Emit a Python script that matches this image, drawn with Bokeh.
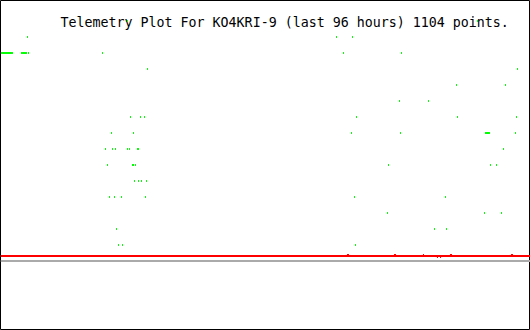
from bokeh.plotting import figure
from bokeh.models import Label, Range1d, ColumnDataSource
from bokeh.embed import file_html
from bokeh.resources import INLINE

title_text = "Telemetry Plot For KO4KRI-9 (last 96 hours) 1104 points."

# green series: time (hours since start of the 96 h window) and value
green_hours = [
    23.00, 86.40,
    4.89, 60.86, 63.76,
    0.18, 0.36, 0.54, 0.72, 0.91, 1.09, 1.27, 1.45, 1.63, 1.81, 1.99, 2.17,
    3.80, 3.98, 4.17, 4.35, 4.53, 4.71, 5.07, 18.48, 62.13, 72.63,
    26.63, 93.65,
    82.60, 91.47,
    72.27, 77.52,
    23.55, 25.36, 26.08, 64.48, 82.78, 93.46,
    20.11, 24.09, 63.58, 72.45, 87.85, 88.03, 88.21, 88.39, 88.57, 93.28,
    19.02, 20.29, 20.83, 23.00, 23.37, 24.82, 25.00, 91.11,
    19.38, 23.91, 24.09, 24.45, 70.28, 88.75, 89.84,
    24.27, 25.00, 25.54, 26.45,
    19.74, 20.65, 21.92, 26.26, 64.12, 80.60,
    70.10, 87.67, 90.75,
    21.01, 78.61, 80.78,
    21.37, 22.10, 64.30,
]
green_values = (
    [15] * 2 + [14] * 3 + [13] * 22 + [12] * 2 + [11] * 2 + [10] * 2
    + [9] * 6 + [8] * 10 + [7] * 8 + [6] * 7 + [5] * 4 + [4] * 6
    + [3] * 3 + [2] * 3 + [1] * 3
)

# red series: steady level plus the few readings that differ
red_base_hours = [0.0, 96.0]
red_base_values = [0.3125, 0.3125]
red_dev_hours = [62.85, 63.03, 71.37, 71.55, 76.62, 79.15, 79.70,
                 81.51, 81.69, 92.56, 92.74]
red_dev_values = [0.375, 0.375, 0.375, 0.375, 0.375, 0.25, 0.25,
                  0.375, 0.375, 0.375, 0.375]

# zero reference line
zero_hours = [0.0, 96.0]
zero_values = [0.0, 0.0]

p = figure(width=530, height=330,
           x_range=Range1d(0, 96), y_range=Range1d(-4.34375, 16.28125),
           output_backend="svg", toolbar_location=None,
           x_axis_location=None, y_axis_location=None, min_border=0)
p.grid.visible = False
p.background_fill_color = "white"
p.border_fill_color = "white"
p.outline_line_color = "black"
p.outline_line_width = 1

title = Label(x=60, y=308, x_units="screen", y_units="screen", text=title_text,
              text_font="DejaVu Sans Mono", text_font_size="13.3px",
              text_color="black", text_baseline="alphabetic", level="underlay")
p.add_layout(title)

p.line(zero_hours, zero_values, line_color="#aaaaaa", line_width=2)

p.line(red_base_hours, red_base_values, line_color="#ff0000", line_width=2)
p.rect(x=red_dev_hours, y=red_dev_values, width=1, height=2,
       width_units="screen", height_units="screen",
       fill_color="#ff0000", line_color=None)

src = ColumnDataSource(dict(h=green_hours, v=green_values))
p.rect(x="h", y="v", width=1, height=2, width_units="screen",
       height_units="screen", fill_color="#00ff00", line_color=None, source=src)

open("out.html", "w").write(file_html(p, INLINE))
